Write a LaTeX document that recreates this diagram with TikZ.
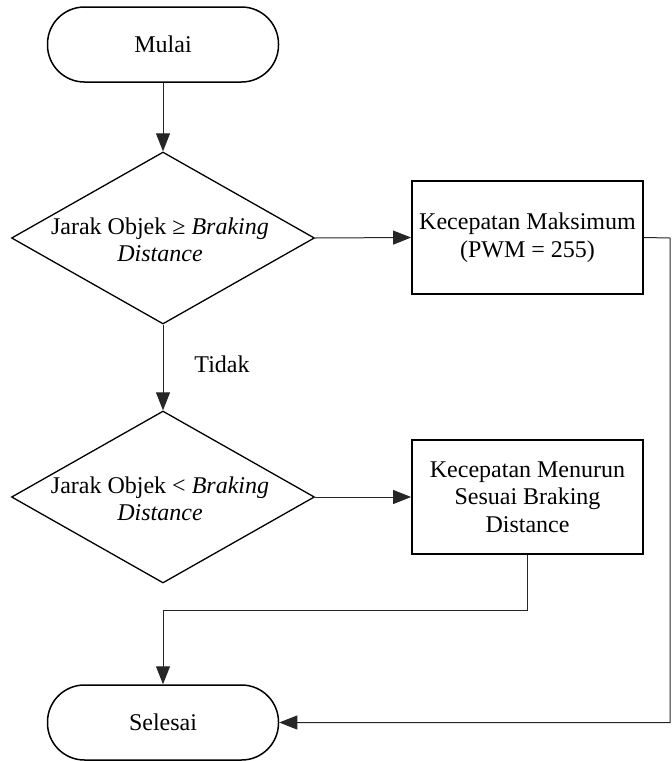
\documentclass[tikz,border=0pt]{standalone}
\usepackage{fontspec}
\setmainfont{Liberation Serif}
\usetikzlibrary{shapes.geometric,arrows.meta}
\begin{document}
\begin{tikzpicture}[x=1pt,y=-1pt,
  every node/.style={font=\fontsize{24}{27.5}\selectfont},
  term/.style={draw, line width=1.5pt, rectangle, rounded corners=37pt, minimum width=231pt, minimum height=75pt, inner sep=0pt},
  dia/.style={draw, line width=1.3pt, diamond, minimum width=303pt, minimum height=172pt, inner sep=0pt},
  proc/.style={draw, line width=1.8pt, rectangle, minimum width=231pt, inner sep=0pt, align=center},
  txt/.style={align=center, inner sep=0pt},
  arr/.style={draw=black!85, line width=1pt, -{Triangle[length=18pt,width=14pt]}},
  ln/.style={draw=black!85, line width=1pt}
]
\useasboundingbox (0,0) rectangle (672,761);
\node[term] (m) at (163,44.5) {Mulai};
\node[dia] (d1) at (163,238) {};
\node[txt] (t1) at (160,240) {Jarak Objek ≥ \textit{Braking}\\\textit{Distance}};
\node[proc, minimum height=113pt] (b1) at (527.5,237.5) {Kecepatan Maksimum\\(PWM = 255)};
\node[dia] (d2) at (163,497) {};
\node[txt] (t2) at (160,499) {Jarak Objek < \textit{Braking}\\\textit{Distance}};
\node[proc, minimum height=114pt] (b2) at (527.5,497) {Kecepatan Menurun\\Sesuai Braking\\Distance};
\node[term] (s) at (163,722.5) {Selesai};
\node[txt] (tl) at (222,364) {Tidak};
\coordinate (r1) at (670,238);
\coordinate (j1) at (163,610);
\draw[arr] (m.south) -- (d1.north);
\draw[arr] (d1.east) -- (b1.west);
\draw[arr] (d1.south) -- (d2.north);
\draw[arr] (d2.east) -- (b2.west);
\draw[arr] (b1.east) -- (r1) |- (s.east);
\draw[arr] (b2.south) |- (j1) -- (s.north);
\end{tikzpicture}
\end{document}
